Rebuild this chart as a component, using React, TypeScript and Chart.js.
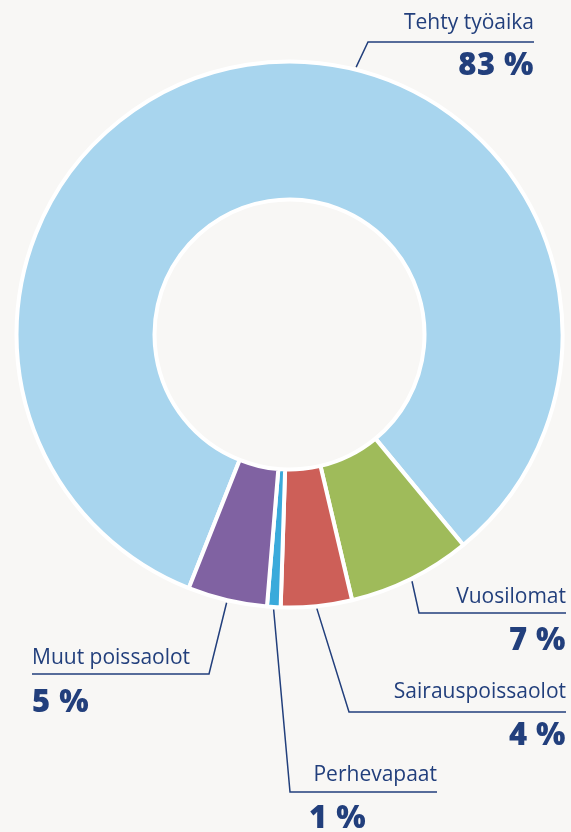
import React, { useEffect, useRef } from 'react';
import { Chart, registerables } from 'chart.js';

Chart.register(...registerables);

const categories = ['Tehty työaika', 'Vuosilomat', 'Sairauspoissaolot', 'Perhevapaat', 'Muut poissaolot'];
const shares = [83.0, 7.3, 4.2, 0.8, 4.7];
const percentLabels = ['83 %', '7 %', '4 %', '1 %', '5 %'];
const sliceColors = ['#a8d5ee', '#9fbb5a', '#cd5f58', '#3aaadb', '#8062a2'];

const NAVY = '#223f7c';
const BG = '#f8f7f5';

type Callout = {
  angleDeg?: number;
  elbow: [number, number];
  endX: number;
  labelAlign: CanvasTextAlign;
  labelX: number;
  labelY: number;
  pctAlign: CanvasTextAlign;
  pctX: number;
  pctY: number;
};

const calloutLayout: Callout[] = [
  { angleDeg: 14, elbow: [368, 42], endX: 534, labelAlign: 'right', labelX: 534, labelY: 28.5, pctAlign: 'right', pctX: 534, pctY: 75 },
  { elbow: [419, 613], endX: 566, labelAlign: 'right', labelX: 566, labelY: 602.5, pctAlign: 'right', pctX: 566, pctY: 650 },
  { elbow: [349, 712], endX: 566, labelAlign: 'right', labelX: 566, labelY: 697.5, pctAlign: 'right', pctX: 566, pctY: 745 },
  { elbow: [290, 792], endX: 437, labelAlign: 'right', labelX: 437, labelY: 781, pctAlign: 'left', pctX: 309, pctY: 828 },
  { elbow: [209, 674], endX: 32, labelAlign: 'left', labelX: 32, labelY: 663.5, pctAlign: 'left', pctX: 32, pctY: 711.5 },
];

const calloutPlugin = {
  id: 'callouts',
  afterDraw(chart: any) {
    const ctx: any = chart.ctx;
    const meta = chart.getDatasetMeta(0);
    meta.data.forEach((arc: any, i: number) => {
      const cfg = calloutLayout[i];
      if (!cfg) return;
      const { x, y, startAngle, endAngle, outerRadius } = arc.getProps(['x', 'y', 'startAngle', 'endAngle', 'outerRadius'], true);
      const ang = cfg.angleDeg !== undefined ? ((cfg.angleDeg - 90) * Math.PI) / 180 : (startAngle + endAngle) / 2;
      const r = outerRadius + 2.5;
      const sx = x + Math.cos(ang) * r;
      const sy = y + Math.sin(ang) * r;
      ctx.save();
      ctx.strokeStyle = NAVY;
      ctx.lineWidth = 1.5;
      ctx.beginPath();
      ctx.moveTo(sx, sy);
      ctx.lineTo(cfg.elbow[0], cfg.elbow[1]);
      ctx.lineTo(cfg.endX, cfg.elbow[1]);
      ctx.stroke();

      ctx.fillStyle = NAVY;
      ctx.textBaseline = 'alphabetic';
      ctx.font = '500 21px "Open Sans"';
      ctx.letterSpacing = '0px';
      ctx.textAlign = cfg.labelAlign;
      ctx.fillText(categories[i], cfg.labelX, cfg.labelY);

      ctx.font = '800 31px "Open Sans"';
      ctx.letterSpacing = '0.5px';
      ctx.textAlign = cfg.pctAlign;
      ctx.fillText(percentLabels[i], cfg.pctX, cfg.pctY);
      ctx.letterSpacing = '0px';
      ctx.restore();
    });
  },
};

export default function App() {
  const canvasRef = useRef<HTMLCanvasElement | null>(null);

  useEffect(() => {
    const canvas = canvasRef.current;
    if (!canvas) return;
    const chart = new Chart(canvas, {
      type: 'doughnut',
      data: {
        labels: categories,
        datasets: [
          {
            data: shares,
            backgroundColor: sliceColors,
            borderColor: '#ffffff',
            borderWidth: 4,
            hoverOffset: 0,
          },
        ],
      },
      options: {
        responsive: false,
        maintainAspectRatio: false,
        animation: false,
        devicePixelRatio: 1,
        rotation: 201.66,
        radius: 273,
        cutout: '49.45%',
        layout: { padding: { left: 10, right: 2, top: 54, bottom: 217 } },
        plugins: {
          legend: { display: false },
          tooltip: { enabled: false },
          title: { display: false },
        },
        events: [],
      },
      plugins: [calloutPlugin],
    });
    return () => chart.destroy();
  }, []);

  return (
    <div style={{ position: 'fixed', left: 0, top: 0, width: 571, height: 832, background: BG }}>
      <canvas ref={canvasRef} width={571} height={832} style={{ display: 'block', width: 571, height: 832 }} />
    </div>
  );
}
